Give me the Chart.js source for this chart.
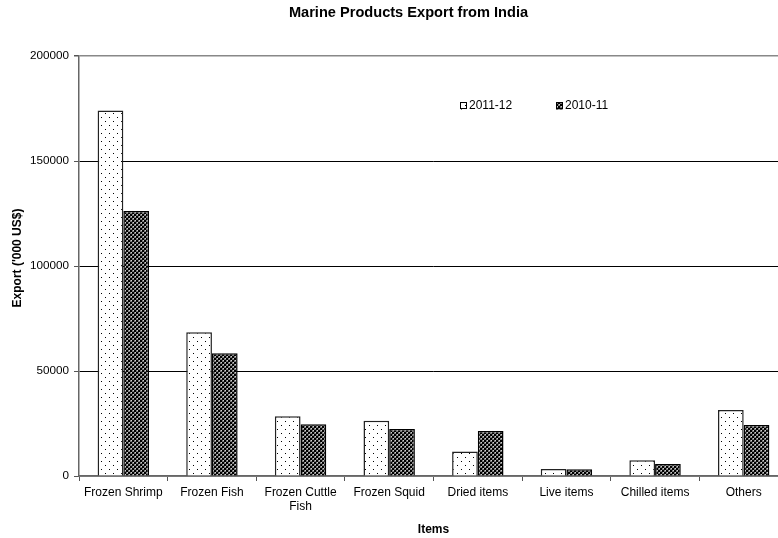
<!DOCTYPE html>
<html>
<head>
<meta charset="utf-8">
<title>Marine Products Export from India</title>
<script src="https://cdn.jsdelivr.net/npm/chart.js@4/dist/chart.umd.min.js"></script>
<style>
  html, body { margin: 0; padding: 0; background: #fff; overflow: hidden; }
  #wrap { width: 778px; height: 538px; overflow: hidden; }
  canvas { display: block; }
</style>
</head>
<body>
<div id="wrap"><canvas id="chart" width="817" height="538"></canvas></div>
<script>
// Export value by item, in '000 US$
const categories = ['Frozen Shrimp', 'Frozen Fish', ['Frozen Cuttle', 'Fish'], 'Frozen Squid',
                    'Dried items', 'Live items', 'Chilled items', 'Others'];
const seriesNames = ['2011-12', '2010-11'];
const export2011_12 = [174000, 68500, 28400, 26300, 11700, 3300, 7500, 31400];
const export2010_11 = [126200, 58400, 24600, 22400, 21400, 3200, 5700, 24300];
const yTicks = [0, 50000, 100000, 150000, 200000];
const yTitle = "Export ('000 US$)";

const FONT = 'Arial, "Liberation Sans", Helvetica, sans-serif';

// Fill textures: sparse dots and a dark woven hatch
function dotPattern() {
  const c = document.createElement('canvas');
  c.width = 8; c.height = 8;
  const g = c.getContext('2d');
  g.fillStyle = '#fff'; g.fillRect(0, 0, 8, 8);
  g.fillStyle = '#000';
  g.fillRect(1, 1, 1, 1);
  g.fillRect(5, 5, 1, 1);
  return g.createPattern(c, 'repeat');
}
function hatchPattern() {
  const c = document.createElement('canvas');
  c.width = 4; c.height = 4;
  const g = c.getContext('2d');
  const cells = [
    ['#000', '#000', '#7a7a7a', '#d0d0d0'],
    ['#000', '#000', '#7a7a7a', '#7a7a7a'],
    ['#7a7a7a', '#d0d0d0', '#000', '#000'],
    ['#7a7a7a', '#7a7a7a', '#000', '#000']
  ];
  for (let y = 0; y < 4; y++) for (let x = 0; x < 4; x++) {
    g.fillStyle = cells[y][x]; g.fillRect(x, y, 1, 1);
  }
  return g.createPattern(c, 'repeat');
}

// Legend drawn inside the plot area, near its top
const innerLegend = {
  id: 'innerLegend',
  afterDraw(chart) {
    const { ctx, chartArea } = chart;
    const y = chartArea.top + 50;
    const starts = [chartArea.left + 381, chartArea.left + 477];
    ctx.save();
    ctx.font = '12px ' + FONT;
    ctx.textBaseline = 'middle';
    ctx.textAlign = 'left';
    chart.data.datasets.forEach((ds, i) => {
      const x = starts[i];
      ctx.fillStyle = ds.backgroundColor;
      ctx.fillRect(x, y - 3.5, 7, 7);
      ctx.strokeStyle = '#000';
      ctx.lineWidth = 1;
      ctx.strokeRect(x + 0.5, y - 3.5, 6, 6);
      ctx.fillStyle = '#000';
      ctx.fillText(ds.label, x + 9, y);
    });
    ctx.restore();
  }
};

// Vertical axis title, set a little above the plot's middle
const valueAxisTitle = {
  id: 'valueAxisTitle',
  afterDraw(chart) {
    const { ctx, chartArea } = chart;
    ctx.save();
    ctx.translate(17.5, (chartArea.top + chartArea.bottom) / 2 - 8);
    ctx.rotate(-Math.PI / 2);
    ctx.font = 'bold 12px ' + FONT;
    ctx.fillStyle = '#000';
    ctx.textAlign = 'center';
    ctx.textBaseline = 'middle';
    ctx.fillText(yTitle, 0, 0);
    ctx.restore();
  }
};

new Chart(document.getElementById('chart'), {
  type: 'bar',
  data: {
    labels: categories,
    datasets: [
      { label: seriesNames[0], data: export2011_12, backgroundColor: dotPattern(),
        borderColor: '#222', borderWidth: 1.5 },
      { label: seriesNames[1], data: export2010_11, backgroundColor: hatchPattern(),
        borderColor: '#000', borderWidth: 1.5 }
    ]
  },
  options: {
    responsive: false,
    devicePixelRatio: 1,
    animation: false,
    layout: { padding: { left: 29, right: 29, top: 0, bottom: 0 } },
    datasets: { bar: { categoryPercentage: 0.58, barPercentage: 1.0 } },
    plugins: {
      legend: { display: false },
      tooltip: { enabled: false },
      title: {
        display: true,
        text: 'Marine Products Export from India',
        color: '#000',
        font: { family: FONT, size: 14.6, weight: 'bold' },
        padding: { top: 4.3, bottom: 34.2 }
      }
    },
    scales: {
      x: {
        afterFit(scale) { scale.height = 62; },
        grid: { display: true, drawOnChartArea: false, drawTicks: true, tickLength: 5,
                color: '#555', offset: true },
        border: { display: true, color: '#666', width: 1.5 },
        ticks: { color: '#000', font: { family: FONT, size: 12 }, padding: 4,
                 autoSkip: false, maxRotation: 0, minRotation: 0 },
        title: { display: true, text: 'Items', color: '#000',
                 font: { family: FONT, size: 12, weight: 'bold' }, padding: { top: 0, bottom: 0.8 } }
      },
      y: {
        min: 0, max: 200000,
        afterFit(scale) { scale.width = 50; },
        afterBuildTicks(scale) { scale.ticks = yTicks.map(v => ({ value: v })); },
        grid: {
          drawTicks: true, tickLength: 5,
          color: ctx => (ctx.tick && (ctx.tick.value === 200000 || ctx.tick.value === 0)) ? '#888' : '#000',
          tickColor: '#555',
          lineWidth: ctx => (ctx.tick && ctx.tick.value === 200000) ? 1.5 : 1
        },
        border: { display: true, color: '#666', width: 1.5 },
        ticks: { color: '#000', font: { family: FONT, size: 11.7 }, padding: 5,
                 callback: v => String(v) },
        title: { display: false }
      }
    }
  },
  plugins: [innerLegend, valueAxisTitle]
});
</script>
</body>
</html>
